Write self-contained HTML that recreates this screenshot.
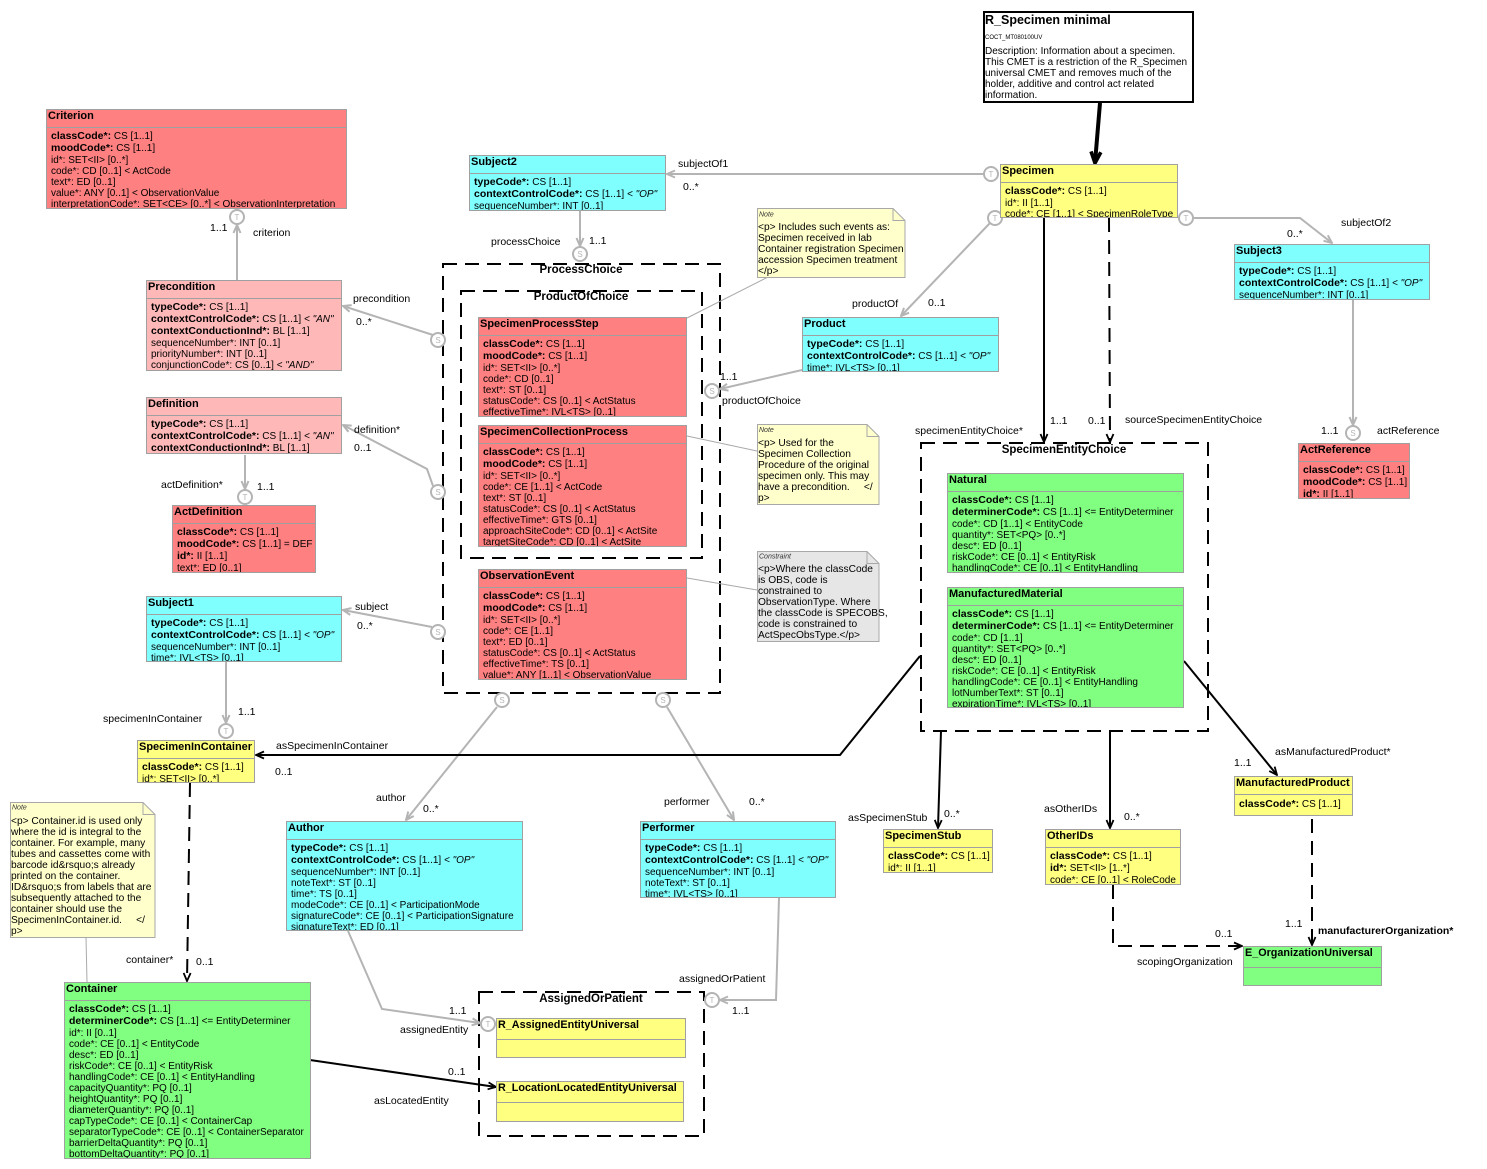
<!DOCTYPE html>
<html><head><meta charset="utf-8"><style>
body{margin:0;background:#fff}
#c{position:relative;width:1487px;height:1169px;overflow:hidden;font-family:"Liberation Sans",sans-serif;color:#000;background:#fff}
svg{position:absolute;left:0;top:0}
.bx{position:absolute;box-sizing:border-box;border:1px solid #a0a0a0;overflow:hidden}
.t{height:17px;line-height:13px;border-bottom:1px solid #a0a0a0;font-weight:bold;font-size:11px;padding-left:1px;white-space:nowrap;overflow:hidden}
.t2{height:20px;line-height:12px;border-bottom:1px solid #a0a0a0;font-weight:bold;font-size:10.8px;padding-left:1px;white-space:nowrap;overflow:hidden}
.a{padding:3px 0 0 4px;font-size:10px;white-space:nowrap}
.a div{height:11px;line-height:11px;overflow:visible}
.a div.b{height:12px;line-height:12px}
.a b{font-size:10.5px;line-height:10px}
.r{background:#ff8080}.p{background:#ffb8b8}.c{background:#80ffff}.y{background:#ffff80}.g{background:#80ff80}
.nt{position:absolute;font-size:10.2px;line-height:11px;white-space:pre;color:#000}
</style></head><body><div id="c">
<svg width="1487" height="1169" viewBox="0 0 1487 1169" font-family="Liberation Sans, sans-serif">
<defs>
<marker id="mg" viewBox="0 0 10 10" refX="9" refY="5" markerWidth="10" markerHeight="10" markerUnits="userSpaceOnUse" orient="auto"><path d="M1,1.5 L9,5 L1,8.5" fill="none" stroke="#b4b4b4" stroke-width="2"/></marker>
<marker id="mb" viewBox="0 0 10 10" refX="9" refY="5" markerWidth="10" markerHeight="10" markerUnits="userSpaceOnUse" orient="auto"><path d="M1,1.5 L9,5 L1,8.5" fill="none" stroke="#000" stroke-width="1.8"/></marker>
<marker id="mt" viewBox="0 0 10 10" refX="9" refY="5" markerWidth="14" markerHeight="14" markerUnits="userSpaceOnUse" orient="auto"><path d="M1,1.5 L9,5 L1,8.5" fill="none" stroke="#000" stroke-width="2.6"/></marker>
</defs>
<g fill="none" stroke="#000" stroke-width="2" stroke-dasharray="14 8">
<rect x="443" y="264" width="277" height="429"/>
<rect x="461" y="291" width="241" height="267"/>
<rect x="921" y="443" width="287" height="288"/>
<rect x="479" y="992" width="225" height="144"/>
</g>
<g font-weight="bold" font-size="11.5" text-anchor="middle">
<text x="581" y="273">ProcessChoice</text>
<text x="581" y="300">ProductOfChoice</text>
<text x="1064" y="453">SpecimenEntityChoice</text>
<text x="591" y="1002">AssignedOrPatient</text>
</g>
<g stroke="#aaa" stroke-width="1" fill="none">
<path d="M768,277 L687,318"/><path d="M687,436 L757,451"/><path d="M687,578 L757,590"/><path d="M86,937 L87,982"/>
</g>
<g stroke="#a8a8a8" stroke-width="1">
<polygon points="757.5,208.5 893,208.5 905,220.5 905,277.5 757.5,277.5" fill="#ffffcc"/>
<polyline points="893,208.5 893,220.5 905,220.5" fill="none"/>
<polygon points="757.5,424.5 867,424.5 879,436.5 879,504.5 757.5,504.5" fill="#ffffcc"/>
<polyline points="867,424.5 867,436.5 879,436.5" fill="none"/>
<polygon points="757.5,551.5 867,551.5 879,563.5 879,641.5 757.5,641.5" fill="#e6e6e6"/>
<polyline points="867,551.5 867,563.5 879,563.5" fill="none"/>
<polygon points="10.5,802.5 143,802.5 155,814.5 155,937.5 10.5,937.5" fill="#ffffcc"/>
<polyline points="143,802.5 143,814.5 155,814.5" fill="none"/>
</g>
<g font-size="7" font-style="italic" fill="#333">
<text x="759" y="216.5">Note</text>
<text x="759" y="432">Note</text>
<text x="759" y="558.5">Constraint</text>
<text x="12" y="809.5">Note</text>
</g>
<rect x="984" y="12" width="209" height="90" fill="#fff" stroke="#000" stroke-width="2"/>
<text x="985" y="24" font-size="12.5" font-weight="bold">R_Specimen minimal</text>
<text x="985" y="39" font-size="6">COCT_MT080100UV</text>
<g fill="none" stroke="#b4b4b4" stroke-width="2">
<path d="M984,174 L667,174" marker-end="url(#mg)"/>
<path d="M580,211 L580,246" marker-end="url(#mg)"/>
<path d="M990,223 L901,316" marker-end="url(#mg)"/>
<path d="M802,370 L720,389" marker-end="url(#mg)"/>
<path d="M237,280 L237,225" marker-end="url(#mg)"/>
<path d="M433,335 L343,306" marker-end="url(#mg)"/>
<path d="M433,486 L427,469 L343,425" marker-end="url(#mg)"/>
<path d="M245,455 L245,489" marker-end="url(#mg)"/>
<path d="M432,627 L343,610" marker-end="url(#mg)"/>
<path d="M226,662 L226,723" marker-end="url(#mg)"/>
<path d="M497,707 L406,820" marker-end="url(#mg)"/>
<path d="M667,707 L734,820" marker-end="url(#mg)"/>
<path d="M348,931 L382,1009 L480,1023" marker-end="url(#mg)"/>
<path d="M779,898 L776,1000 L720,1000" marker-end="url(#mg)"/>
<path d="M1193,218 L1300,218 L1332,243" marker-end="url(#mg)"/>
<path d="M1353,300 L1353,425" marker-end="url(#mg)"/>
</g>
<g fill="#fff" stroke="#b4b4b4" stroke-width="2">
<circle cx="991" cy="174" r="7"/><circle cx="995" cy="218" r="7"/><circle cx="1186" cy="218" r="7"/>
<circle cx="580" cy="254" r="7"/><circle cx="712" cy="391" r="7"/><circle cx="237" cy="217" r="7"/>
<circle cx="438" cy="340" r="7"/><circle cx="438" cy="492" r="7"/><circle cx="245" cy="497" r="7"/>
<circle cx="438" cy="632" r="7"/><circle cx="226" cy="731" r="7"/><circle cx="502" cy="700" r="7"/>
<circle cx="663" cy="700" r="7"/><circle cx="488" cy="1024" r="7"/><circle cx="712" cy="1000" r="7"/>
<circle cx="1353" cy="433" r="7"/>
</g>
<g font-size="8" fill="#b4b4b4" text-anchor="middle">
<text x="991" y="177">T</text><text x="995" y="221">T</text><text x="1186" y="221">T</text>
<text x="580" y="257">S</text><text x="712" y="394">S</text><text x="237" y="220">T</text>
<text x="438" y="343">S</text><text x="438" y="495">S</text><text x="245" y="500">T</text>
<text x="438" y="635">S</text><text x="226" y="734">T</text><text x="502" y="703">S</text>
<text x="663" y="703">S</text><text x="488" y="1027">T</text><text x="712" y="1003">T</text>
<text x="1353" y="436">S</text>
</g>
<path d="M1100,103 L1095,163" stroke="#000" stroke-width="4" fill="none" marker-end="url(#mt)"/>
<g fill="none" stroke="#000" stroke-width="2">
<path d="M1044,218 L1044,442" marker-end="url(#mb)"/>
<path d="M1109,218 L1110,442" stroke-dasharray="14 8" marker-end="url(#mb)"/>
<path d="M920,656 L840,755 L256,755" marker-end="url(#mb)"/>
<path d="M190,783 L187,981" stroke-dasharray="14 8" marker-end="url(#mb)"/>
<path d="M310,1060 L496,1087" marker-end="url(#mb)"/>
<path d="M941,731 L938,828" marker-end="url(#mb)"/>
<path d="M1110,731 L1110,828" marker-end="url(#mb)"/>
<path d="M1184,661 L1277,775" marker-end="url(#mb)"/>
<path d="M1113,885 L1113,946 L1242,946" stroke-dasharray="14 8" marker-end="url(#mb)"/>
<path d="M1312,819 L1312,945" stroke-dasharray="14 8" marker-end="url(#mb)"/>
</g>
<g font-size="10.5" fill="#000">
<text x="253" y="236">criterion</text><text x="210" y="231">1..1</text>
<text x="353" y="302">precondition</text><text x="356" y="325">0..*</text>
<text x="354" y="433">definition*</text><text x="354" y="451">0..1</text>
<text x="161" y="488">actDefinition*</text><text x="257" y="490">1..1</text>
<text x="355" y="610">subject</text><text x="357" y="629">0..*</text>
<text x="103" y="722">specimenInContainer</text><text x="238" y="715">1..1</text>
<text x="276" y="749">asSpecimenInContainer</text><text x="275" y="775">0..1</text>
<text x="126" y="963">container*</text><text x="196" y="965">0..1</text>
<text x="374" y="1104">asLocatedEntity</text><text x="448" y="1075">0..1</text>
<text x="400" y="1033">assignedEntity</text><text x="449" y="1014">1..1</text>
<text x="376" y="801">author</text><text x="423" y="812">0..*</text>
<text x="664" y="805">performer</text><text x="749" y="805">0..*</text>
<text x="679" y="982">assignedOrPatient</text><text x="732" y="1014">1..1</text>
<text x="678" y="167">subjectOf1</text><text x="683" y="190">0..*</text>
<text x="491" y="245">processChoice</text><text x="589" y="244">1..1</text>
<text x="852" y="307">productOf</text><text x="928" y="306">0..1</text>
<text x="720" y="380">1..1</text><text x="722" y="404">productOfChoice</text>
<text x="915" y="434">specimenEntityChoice*</text><text x="1050" y="424">1..1</text>
<text x="1088" y="424">0..1</text><text x="1125" y="423">sourceSpecimenEntityChoice</text>
<text x="1341" y="226">subjectOf2</text><text x="1287" y="237">0..*</text>
<text x="1321" y="434">1..1</text><text x="1377" y="434">actReference</text>
<text x="848" y="821">asSpecimenStub</text><text x="944" y="817">0..*</text>
<text x="1044" y="812">asOtherIDs</text><text x="1124" y="820">0..*</text>
<text x="1275" y="755">asManufacturedProduct*</text><text x="1234" y="766">1..1</text>
<text x="1137" y="965">scopingOrganization</text><text x="1215" y="937">0..1</text>
<text x="1285" y="927">1..1</text><text x="1318" y="934" font-weight="bold">manufacturerOrganization*</text>
</g>
</svg>

<div class="nt" style="left:985px;top:46px;font-size:10px">Description: Information about a specimen.
This CMET is a restriction of the R_Specimen
universal CMET and removes much of the
holder, additive and control act related
information.</div>
<div class="nt" style="left:758px;top:222px">&lt;p&gt; Includes such events as:
Specimen received in lab
Container registration Specimen
accession Specimen treatment
&lt;/p&gt;</div>
<div class="nt" style="left:758px;top:438px">&lt;p&gt; Used for the
Specimen Collection
Procedure of the original
specimen only. This may
have a precondition.     &lt;/
p&gt;</div>
<div class="nt" style="left:758px;top:564px">&lt;p&gt;Where the classCode
is OBS, code is
constrained to
ObservationType. Where
the classCode is SPECOBS,
code is constrained to
ActSpecObsType.&lt;/p&gt;</div>
<div class="nt" style="left:11px;top:816px">&lt;p&gt; Container.id is used only
where the id is integral to the
container. For example, many
tubes and cassettes come with
barcode id&amp;rsquo;s already
printed on the container.
ID&amp;rsquo;s from labels that are
subsequently attached to the
container should use the
SpecimenInContainer.id.     &lt;/
p&gt;</div>

<div class="bx r" style="left:46px;top:109px;width:301px;height:100px"><div class="t">Criterion</div><div class="a">
<div class="b"><b>classCode*:</b> CS [1..1]</div>
<div class="b"><b>moodCode*:</b> CS [1..1]</div>
<div>id*: SET&lt;II&gt; [0..*]</div>
<div>code*: CD [0..1] &lt; ActCode</div>
<div>text*: ED [0..1]</div>
<div>value*: ANY [0..1] &lt; ObservationValue</div>
<div>interpretationCode*: SET&lt;CE&gt; [0..*] &lt; ObservationInterpretation</div></div></div>

<div class="bx p" style="left:146px;top:280px;width:196px;height:91px"><div class="t">Precondition</div><div class="a">
<div class="b"><b>typeCode*:</b> CS [1..1]</div>
<div class="b"><b>contextControlCode*:</b> CS [1..1] <i>&lt; "AN"</i></div>
<div class="b"><b>contextConductionInd*:</b> BL [1..1]</div>
<div>sequenceNumber*: INT [0..1]</div>
<div>priorityNumber*: INT [0..1]</div>
<div>conjunctionCode*: CS [0..1] <i>&lt; "AND"</i></div></div></div>

<div class="bx p" style="left:146px;top:397px;width:196px;height:57px"><div class="t">Definition</div><div class="a">
<div class="b"><b>typeCode*:</b> CS [1..1]</div>
<div class="b"><b>contextControlCode*:</b> CS [1..1] <i>&lt; "AN"</i></div>
<div class="b"><b>contextConductionInd*:</b> BL [1..1]</div></div></div>

<div class="bx r" style="left:172px;top:505px;width:144px;height:68px"><div class="t">ActDefinition</div><div class="a">
<div class="b"><b>classCode*:</b> CS [1..1]</div>
<div class="b"><b>moodCode*:</b> CS [1..1] = DEF</div>
<div class="b"><b>id*:</b> II [1..1]</div>
<div>text*: ED [0..1]</div></div></div>

<div class="bx c" style="left:146px;top:596px;width:196px;height:66px"><div class="t">Subject1</div><div class="a">
<div class="b"><b>typeCode*:</b> CS [1..1]</div>
<div class="b"><b>contextControlCode*:</b> CS [1..1] <i>&lt; "OP"</i></div>
<div>sequenceNumber*: INT [0..1]</div>
<div>time*: IVL&lt;TS&gt; [0..1]</div></div></div>

<div class="bx y" style="left:137px;top:740px;width:118px;height:43px"><div class="t">SpecimenInContainer</div><div class="a">
<div class="b"><b>classCode*:</b> CS [1..1]</div>
<div>id*: SET&lt;II&gt; [0..*]</div></div></div>

<div class="bx g" style="left:64px;top:982px;width:247px;height:177px"><div class="t">Container</div><div class="a">
<div class="b"><b>classCode*:</b> CS [1..1]</div>
<div class="b"><b>determinerCode*:</b> CS [1..1] &lt;= EntityDeterminer</div>
<div>id*: II [0..1]</div>
<div>code*: CE [0..1] &lt; EntityCode</div>
<div>desc*: ED [0..1]</div>
<div>riskCode*: CE [0..1] &lt; EntityRisk</div>
<div>handlingCode*: CE [0..1] &lt; EntityHandling</div>
<div>capacityQuantity*: PQ [0..1]</div>
<div>heightQuantity*: PQ [0..1]</div>
<div>diameterQuantity*: PQ [0..1]</div>
<div>capTypeCode*: CE [0..1] &lt; ContainerCap</div>
<div>separatorTypeCode*: CE [0..1] &lt; ContainerSeparator</div>
<div>barrierDeltaQuantity*: PQ [0..1]</div>
<div>bottomDeltaQuantity*: PQ [0..1]</div></div></div>

<div class="bx c" style="left:469px;top:155px;width:197px;height:56px"><div class="t">Subject2</div><div class="a">
<div class="b"><b>typeCode*:</b> CS [1..1]</div>
<div class="b"><b>contextControlCode*:</b> CS [1..1] <i>&lt; "OP"</i></div>
<div>sequenceNumber*: INT [0..1]</div></div></div>

<div class="bx r" style="left:478px;top:317px;width:209px;height:100px"><div class="t">SpecimenProcessStep</div><div class="a">
<div class="b"><b>classCode*:</b> CS [1..1]</div>
<div class="b"><b>moodCode*:</b> CS [1..1]</div>
<div>id*: SET&lt;II&gt; [0..*]</div>
<div>code*: CD [0..1]</div>
<div>text*: ST [0..1]</div>
<div>statusCode*: CS [0..1] &lt; ActStatus</div>
<div>effectiveTime*: IVL&lt;TS&gt; [0..1]</div></div></div>

<div class="bx r" style="left:478px;top:425px;width:209px;height:122px"><div class="t">SpecimenCollectionProcess</div><div class="a">
<div class="b"><b>classCode*:</b> CS [1..1]</div>
<div class="b"><b>moodCode*:</b> CS [1..1]</div>
<div>id*: SET&lt;II&gt; [0..*]</div>
<div>code*: CE [1..1] &lt; ActCode</div>
<div>text*: ST [0..1]</div>
<div>statusCode*: CS [0..1] &lt; ActStatus</div>
<div>effectiveTime*: GTS [0..1]</div>
<div>approachSiteCode*: CD [0..1] &lt; ActSite</div>
<div>targetSiteCode*: CD [0..1] &lt; ActSite</div></div></div>

<div class="bx r" style="left:478px;top:569px;width:209px;height:111px"><div class="t">ObservationEvent</div><div class="a">
<div class="b"><b>classCode*:</b> CS [1..1]</div>
<div class="b"><b>moodCode*:</b> CS [1..1]</div>
<div>id*: SET&lt;II&gt; [0..*]</div>
<div>code*: CE [1..1]</div>
<div>text*: ED [0..1]</div>
<div>statusCode*: CS [0..1] &lt; ActStatus</div>
<div>effectiveTime*: TS [0..1]</div>
<div>value*: ANY [1..1] &lt; ObservationValue</div></div></div>

<div class="bx y" style="left:1000px;top:164px;width:178px;height:54px"><div class="t">Specimen</div><div class="a">
<div class="b"><b>classCode*:</b> CS [1..1]</div>
<div>id*: II [1..1]</div>
<div>code*: CE [1..1] &lt; SpecimenRoleType</div></div></div>

<div class="bx c" style="left:802px;top:317px;width:197px;height:55px"><div class="t">Product</div><div class="a">
<div class="b"><b>typeCode*:</b> CS [1..1]</div>
<div class="b"><b>contextControlCode*:</b> CS [1..1] <i>&lt; "OP"</i></div>
<div>time*: IVL&lt;TS&gt; [0..1]</div></div></div>

<div class="bx c" style="left:1234px;top:244px;width:196px;height:56px"><div class="t">Subject3</div><div class="a">
<div class="b"><b>typeCode*:</b> CS [1..1]</div>
<div class="b"><b>contextControlCode*:</b> CS [1..1] <i>&lt; "OP"</i></div>
<div>sequenceNumber*: INT [0..1]</div></div></div>

<div class="bx r" style="left:1298px;top:443px;width:112px;height:56px"><div class="t">ActReference</div><div class="a">
<div class="b"><b>classCode*:</b> CS [1..1]</div>
<div class="b"><b>moodCode*:</b> CS [1..1]</div>
<div class="b"><b>id*:</b> II [1..1]</div></div></div>

<div class="bx g" style="left:947px;top:473px;width:237px;height:100px"><div class="t">Natural</div><div class="a">
<div class="b"><b>classCode*:</b> CS [1..1]</div>
<div class="b"><b>determinerCode*:</b> CS [1..1] &lt;= EntityDeterminer</div>
<div>code*: CD [1..1] &lt; EntityCode</div>
<div>quantity*: SET&lt;PQ&gt; [0..*]</div>
<div>desc*: ED [0..1]</div>
<div>riskCode*: CE [0..1] &lt; EntityRisk</div>
<div>handlingCode*: CE [0..1] &lt; EntityHandling</div></div></div>

<div class="bx g" style="left:947px;top:587px;width:237px;height:121px"><div class="t">ManufacturedMaterial</div><div class="a">
<div class="b"><b>classCode*:</b> CS [1..1]</div>
<div class="b"><b>determinerCode*:</b> CS [1..1] &lt;= EntityDeterminer</div>
<div>code*: CD [1..1]</div>
<div>quantity*: SET&lt;PQ&gt; [0..*]</div>
<div>desc*: ED [0..1]</div>
<div>riskCode*: CE [0..1] &lt; EntityRisk</div>
<div>handlingCode*: CE [0..1] &lt; EntityHandling</div>
<div>lotNumberText*: ST [0..1]</div>
<div>expirationTime*: IVL&lt;TS&gt; [0..1]</div></div></div>

<div class="bx c" style="left:286px;top:821px;width:237px;height:110px"><div class="t">Author</div><div class="a">
<div class="b"><b>typeCode*:</b> CS [1..1]</div>
<div class="b"><b>contextControlCode*:</b> CS [1..1] <i>&lt; "OP"</i></div>
<div>sequenceNumber*: INT [0..1]</div>
<div>noteText*: ST [0..1]</div>
<div>time*: TS [0..1]</div>
<div>modeCode*: CE [0..1] &lt; ParticipationMode</div>
<div>signatureCode*: CE [0..1] &lt; ParticipationSignature</div>
<div>signatureText*: ED [0..1]</div></div></div>

<div class="bx c" style="left:640px;top:821px;width:196px;height:77px"><div class="t">Performer</div><div class="a">
<div class="b"><b>typeCode*:</b> CS [1..1]</div>
<div class="b"><b>contextControlCode*:</b> CS [1..1] <i>&lt; "OP"</i></div>
<div>sequenceNumber*: INT [0..1]</div>
<div>noteText*: ST [0..1]</div>
<div>time*: IVL&lt;TS&gt; [0..1]</div></div></div>

<div class="bx y" style="left:496px;top:1018px;width:190px;height:40px"><div class="t2">R_AssignedEntityUniversal</div></div>
<div class="bx y" style="left:496px;top:1081px;width:188px;height:41px"><div class="t2">R_LocationLocatedEntityUniversal</div></div>

<div class="bx y" style="left:883px;top:829px;width:110px;height:44px"><div class="t">SpecimenStub</div><div class="a">
<div class="b"><b>classCode*:</b> CS [1..1]</div>
<div>id*: II [1..1]</div></div></div>

<div class="bx y" style="left:1045px;top:829px;width:136px;height:56px"><div class="t">OtherIDs</div><div class="a">
<div class="b"><b>classCode*:</b> CS [1..1]</div>
<div class="b"><b>id*:</b> SET&lt;II&gt; [1..*]</div>
<div>code*: CE [0..1] &lt; RoleCode</div></div></div>

<div class="bx y" style="left:1234px;top:776px;width:119px;height:40px"><div class="t">ManufacturedProduct</div><div class="a" style="padding-top:4px">
<div class="b"><b>classCode*:</b> CS [1..1]</div></div></div>

<div class="bx g" style="left:1243px;top:946px;width:139px;height:40px"><div class="t2">E_OrganizationUniversal</div></div>

</div></body></html>
